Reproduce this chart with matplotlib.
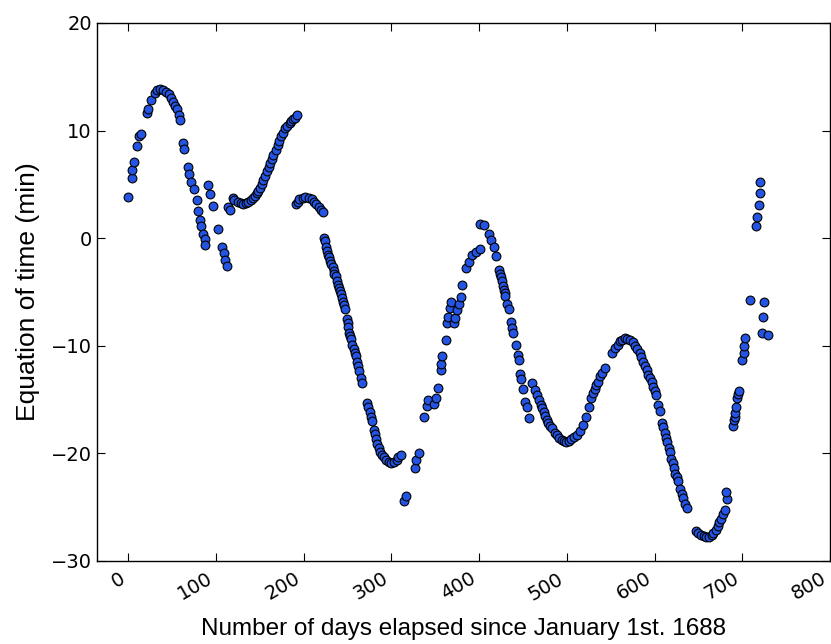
import matplotlib
matplotlib.use("Agg")
import matplotlib.pyplot as plt

# Days elapsed since January 1st 1688
days = [0, 4, 4.5, 6, 10, 12, 14, 21, 23, 26, 30, 33, 36, 40, 43, 46, 49, 51, 53, 55, 58, 59.5,
        62, 63, 68, 69, 72, 75, 78, 79.5, 81.5, 83, 85, 87, 88,
        91, 93.5, 96.5, 102, 107, 109, 110, 112,
        114, 116, 119, 121, 125, 128, 131, 134, 137, 140, 142, 144, 146.5, 148, 150.5, 152,
        154, 156, 158, 160, 162, 164, 165.5, 168, 170.5, 172, 174, 176, 179, 181, 184, 186,
        188, 190, 192,
        191, 193, 195, 199, 202, 206, 209, 212, 214, 217, 220, 222,
        223.5, 224.5, 225.5, 227, 228, 229, 230, 231, 233, 234, 235, 237, 238, 239, 240, 241,
        242.5, 244, 245, 246, 247, 249, 250, 251, 252, 253, 254, 255.5, 257, 258, 259.5, 261,
        262, 263, 265, 267, 272.5, 273.5, 275, 276.5, 278, 280, 281, 282.5, 284, 286, 287.5,
        289.5, 292, 294, 297, 300, 303, 306, 308, 311,
        314, 317,
        327, 328.5, 331,
        337, 340, 342, 348, 350.5, 353.5, 356, 357, 358, 362, 363.5, 365, 371, 372.5, 366.5,
        367.5, 375, 377, 379, 380, 385, 388, 392, 396, 400.5,
        401.5, 405, 411, 414, 416.5, 419,
        422.5, 423.5, 424.5, 425.5, 427, 428, 429, 430, 432, 434, 436.5, 437.5, 438.5, 442,
        444, 445, 447, 448, 449.5, 452.5, 454.5, 456.5,
        460, 464, 466, 468, 470, 471.5, 473.5, 475.5, 477, 479, 481, 483, 486, 488.5, 491,
        494, 497, 499, 502, 505, 508, 511.5, 515, 518, 521.5, 525.5, 528, 530, 532, 533.5,
        535, 538, 540, 543, 551, 555, 558, 561, 563, 566, 569, 572, 575, 578, 580, 583, 585,
        587, 589, 591, 593, 595, 597, 598.5, 600, 601.5, 604, 606, 608.5, 610, 611.5, 613.5,
        614.5, 616, 617.5, 619, 620.5, 622, 623.5, 625, 627, 629.5, 631, 632.5, 634.5, 636.5,
        647.5, 650, 653, 656, 659, 662, 665, 667, 670, 672, 674, 676, 678, 680, 682.5, 681,
        689.5, 690.5, 691.3, 692, 693, 694.5, 695.5, 696,
        700, 701.5, 702.5, 703.5,
        708.5,
        716, 716.8, 718.5, 720, 720.5,
        724.3, 723.4, 722.2, 729.8]

# Equation of time in minutes
eot = [3.8, 5.6, 6.3, 7.1, 8.6, 9.5, 9.7, 11.6, 12.0, 12.8, 13.5, 13.8, 13.9, 13.8, 13.6, 13.4, 13.0, 12.7, 12.3, 12.0, 11.4, 11.0,
       8.8, 8.3, 6.6, 6.0, 5.2, 4.6, 3.5, 2.5, 1.7, 1.1, 0.4, -0.1, -0.6,
       4.9, 4.1, 3.0, 0.8, -0.8, -1.4, -2.0, -2.6,
       2.9, 2.6, 3.7, 3.5, 3.4, 3.3, 3.2, 3.3, 3.4, 3.5, 3.7, 3.9, 4.2, 4.4, 4.7, 5.0,
       5.4, 5.8, 6.2, 6.6, 7.0, 7.4, 7.7, 8.2, 8.7, 9.0, 9.5, 9.8, 10.2, 10.4, 10.7, 10.9,
       11.1, 11.2, 11.4,
       3.2, 3.4, 3.6, 3.7, 3.8, 3.7, 3.6, 3.4, 3.2, 2.9, 2.6, 2.4,
       0.0, -0.3, -0.8, -1.2, -1.6, -1.8, -2.1, -2.4, -2.7, -3.1, -3.3, -3.5, -4.0, -4.4, -4.6, -4.9,
       -5.2, -5.6, -5.9, -6.2, -6.6, -7.5, -7.9, -8.3, -8.8, -9.1, -9.4, -9.9, -10.3, -10.7, -11.0, -11.5,
       -11.9, -12.4, -13.0, -13.5, -15.3, -15.7, -16.2, -16.6, -17.0, -17.8, -18.2, -18.7, -19.1, -19.5, -19.9,
       -20.2, -20.4, -20.6, -20.8, -20.9, -20.8, -20.6, -20.4, -20.2,
       -24.4, -24.0,
       -21.4, -20.6, -20.0,
       -16.6, -15.6, -15.1, -15.4, -14.9, -13.9, -12.3, -11.7, -11.0, -9.5, -7.9, -7.3, -7.9, -7.4, -6.5,
       -5.9, -6.7, -6.1, -5.5, -4.4, -2.8, -2.2, -1.6, -1.3, -1.0,
       1.3, 1.2, 0.4, -0.2, -0.8, -1.7,
       -3.0, -3.3, -3.6, -4.0, -4.5, -4.8, -5.1, -5.4, -6.1, -6.6, -7.8, -8.4, -8.8, -9.9,
       -10.9, -11.3, -12.6, -13.1, -14.0, -15.2, -15.7, -16.7,
       -13.5, -14.1, -14.6, -15.1, -15.5, -15.8, -16.2, -16.5, -16.9, -17.2, -17.5, -17.7, -18.1, -18.3, -18.6,
       -18.8, -18.9, -18.95, -18.9, -18.7, -18.5, -18.3, -17.9, -17.4, -16.6, -15.7, -14.9, -14.4, -14.0, -13.7,
       -13.4, -12.8, -12.5, -12.1, -10.7, -10.2, -9.9, -9.6, -9.45, -9.3, -9.35, -9.5, -9.7, -10.0, -10.3, -10.7, -11.1,
       -11.5, -11.9, -12.3, -12.7, -13.0, -13.4, -13.8, -14.2, -14.6, -15.5, -16.1, -17.2, -17.6, -18.1, -18.6,
       -19.0, -19.5, -19.9, -20.5, -20.9, -21.4, -21.9, -22.2, -22.6, -23.3, -23.8, -24.2, -24.7, -25.1,
       -27.2, -27.4, -27.6, -27.7, -27.8, -27.8, -27.6, -27.4, -27.1, -26.8, -26.4, -26.1, -25.7, -25.3, -24.3, -23.6,
       -17.5, -16.9, -16.6, -16.3, -15.7, -14.9, -14.5, -14.2,
       -11.3, -10.7, -10.0, -9.3,
       -5.8,
       1.1, 2.0, 3.1, 4.2, 5.2,
       -5.9, -7.3, -8.8, -9.0]

x_ticks = [0, 100, 200, 300, 400, 500, 600, 700, 800]
y_ticks = [-30, -20, -10, 0, 10, 20]

fig = plt.figure(figsize=(8.31, 6.44), dpi=100)
ax = fig.add_axes([0.1164, 0.1293, 0.8824, 0.835])

ax.scatter(days, eot, s=40, c="#2454e2", edgecolors="black", linewidths=0.8, zorder=3)

ax.set_xlim(-36, 800)
ax.set_ylim(-30, 20)
ax.set_xticks(x_ticks)
ax.set_yticks(y_ticks)
ax.tick_params(direction="in", top=True, right=True, length=6, width=0.8, labelsize=14)
ax.tick_params(axis="x", pad=6)
for lab in ax.get_xticklabels():
    lab.set_rotation(30)
    lab.set_ha("right")
for sp in ax.spines.values():
    sp.set_linewidth(1.0)

ax.set_xlabel("Number of days elapsed since January 1st. 1688",
              fontsize=17.5, family="Liberation Sans", labelpad=10)
ax.set_ylabel("Equation of time (min)", fontsize=19, family="Liberation Sans", labelpad=8)

fig.savefig("out.png", dpi=100)
